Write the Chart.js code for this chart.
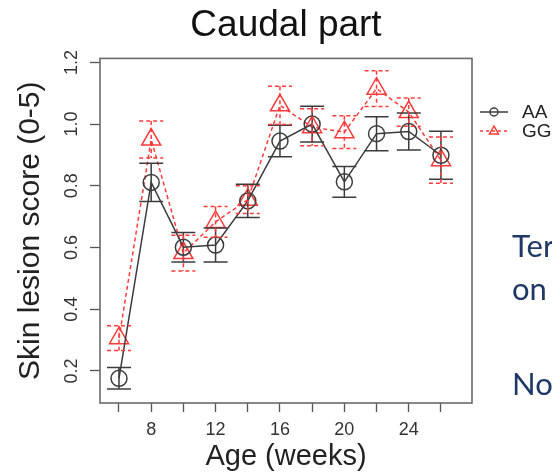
<!DOCTYPE html>
<html>
<head>
<meta charset="utf-8">
<script src="https://cdn.jsdelivr.net/npm/chart.js@4.4.1/dist/chart.umd.min.js"></script>
<style>
  html, body { margin: 0; padding: 0; background: #fff; }
  #wrap { width: 552px; height: 475px; position: relative; }
</style>
</head>
<body>
<div id="wrap"><canvas id="c" width="552" height="475"></canvas></div>
<script>
// ---- data ----
const weeks = [6, 8, 10, 12, 14, 16, 18, 20, 22, 24, 26];
const aaMean = [0.176, 0.811, 0.601, 0.608, 0.751, 0.945, 1.000, 0.813, 0.969, 0.976, 0.899];
const aaErr  = [0.035, 0.062, 0.048, 0.055, 0.054, 0.051, 0.058, 0.050, 0.055, 0.060, 0.078];
const ggMean = [0.306, 0.950, 0.582, 0.683, 0.755, 1.061, 0.990, 0.974, 1.115, 1.039, 0.883];
const ggErr  = [0.040, 0.060, 0.058, 0.050, 0.045, 0.062, 0.060, 0.053, 0.058, 0.046, 0.075];
const seriesLabels = ['AA', 'GG'];
const xTicks = [6, 8, 10, 12, 14, 16, 18, 20, 22, 24, 26];
const xTickLabels = ['', '8', '', '12', '', '16', '', '20', '', '24', ''];
const yTicks = [0.2, 0.4, 0.6, 0.8, 1.0, 1.2];
const yTickLabels = ['0.2', '0.4', '0.6', '0.8', '1.0', '1.2'];
const titleText = 'Caudal part';
const xTitle = 'Age (weeks)';
const yTitle = 'Skin lesion score (0-5)';
const slideText = ['Ter', 'on', 'No'];

const AA_COLOR = '#3c3c3c';
const GG_COLOR = '#ff3a3a';
const FONT = "'Liberation Sans', Arial, sans-serif";

const errorBars = {
  id: 'errorBars',
  afterDatasetsDraw(chart) {
    const {ctx, scales: {x, y}} = chart;
    const sets = [
      {mean: aaMean, err: aaErr, color: AA_COLOR, dash: []},
      {mean: ggMean, err: ggErr, color: GG_COLOR, dash: [4, 3]}
    ];
    const cap = 12;
    sets.forEach(s => {
      ctx.save();
      ctx.strokeStyle = s.color;
      ctx.lineWidth = 1.5;
      ctx.setLineDash(s.dash);
      weeks.forEach((w, i) => {
        const px = x.getPixelForValue(w);
        const top = y.getPixelForValue(s.mean[i] + s.err[i]);
        const bot = y.getPixelForValue(s.mean[i] - s.err[i]);
        ctx.beginPath();
        ctx.moveTo(px, top); ctx.lineTo(px, bot);
        ctx.moveTo(px - cap, top); ctx.lineTo(px + cap, top);
        ctx.moveTo(px - cap, bot); ctx.lineTo(px + cap, bot);
        ctx.stroke();
      });
      ctx.restore();
    });
  }
};

const frame = {
  id: 'frame',
  afterDraw(chart) {
    const {ctx, chartArea: a} = chart;
    ctx.save();
    ctx.strokeStyle = '#6a6a6a';
    ctx.lineWidth = 1.6;
    ctx.strokeRect(a.left, a.top, a.right - a.left, a.bottom - a.top);
    ctx.restore();
  }
};

const customLegend = {
  id: 'customLegend',
  afterDraw(chart) {
    const {ctx} = chart;
    const rows = [
      {label: seriesLabels[0], color: AA_COLOR, dash: [], y: 112, style: 'circle'},
      {label: seriesLabels[1], color: GG_COLOR, dash: [3, 3], y: 131, style: 'triangle'}
    ];
    rows.forEach(r => {
      ctx.save();
      ctx.strokeStyle = r.color;
      ctx.lineWidth = 1.5;
      ctx.setLineDash(r.dash);
      ctx.beginPath();
      ctx.moveTo(480, r.y); ctx.lineTo(508, r.y);
      ctx.stroke();
      ctx.setLineDash([]);
      ctx.beginPath();
      if (r.style === 'circle') {
        ctx.arc(494, r.y, 4, 0, Math.PI * 2);
      } else {
        ctx.moveTo(494, r.y - 5); ctx.lineTo(498.5, r.y + 3); ctx.lineTo(489.5, r.y + 3); ctx.closePath();
      }
      ctx.stroke();
      ctx.fillStyle = '#222';
      ctx.font = '19px ' + FONT;
      ctx.textBaseline = 'middle';
      ctx.textAlign = 'left';
      ctx.fillText(r.label, 522, r.y + 1);
      ctx.restore();
    });
  }
};

const slide = {
  id: 'slide',
  afterDraw(chart) {
    const {ctx} = chart;
    ctx.save();
    ctx.fillStyle = '#1f3864';
    ctx.font = "31px Lato, 'Open Sans', sans-serif";
    ctx.textBaseline = 'alphabetic';
    ctx.textAlign = 'left';
    const ys = [257, 300, 395];
    slideText.forEach((t, i) => ctx.fillText(t, 512, ys[i]));
    ctx.restore();
  }
};

new Chart(document.getElementById('c'), {
  type: 'line',
  data: {
    datasets: [
      {
        label: seriesLabels[0],
        data: weeks.map((w, i) => ({x: w, y: aaMean[i]})),
        borderColor: AA_COLOR,
        borderWidth: 1.5,
        pointStyle: 'circle',
        pointRadius: 8,
        pointBorderWidth: 1.5,
        pointBorderColor: AA_COLOR,
        pointBackgroundColor: 'rgba(0,0,0,0)',
        tension: 0
      },
      {
        label: seriesLabels[1],
        data: weeks.map((w, i) => ({x: w, y: ggMean[i]})),
        borderColor: GG_COLOR,
        borderWidth: 1.5,
        borderDash: [4, 3],
        pointStyle: 'triangle',
        pointRadius: 11,
        pointBorderWidth: 1.5,
        pointBorderColor: GG_COLOR,
        pointBackgroundColor: 'rgba(0,0,0,0)',
        tension: 0
      }
    ]
  },
  options: {
    responsive: false,
    animation: false,
    events: [],
    layout: { padding: { top: 0, right: 80, left: 0, bottom: 0 } },
    plugins: {
      legend: { display: false },
      tooltip: { enabled: false },
      title: {
        display: true,
        text: titleText,
        fullSize: false,
        color: '#111',
        font: { family: FONT, size: 37, weight: 'normal' },
        padding: { top: 4, bottom: 10 }
      }
    },
    scales: {
      x: {
        type: 'linear',
        min: 4.82,
        max: 27.93,
        afterBuildTicks: s => { s.ticks = xTicks.map(v => ({value: v})); },
        afterFit: s => { s.height = 72; },
        ticks: {
          autoSkip: false,
          maxRotation: 0,
          color: '#333',
          padding: 7,
          font: { family: FONT, size: 18 },
          callback: (v, i) => xTickLabels[i]
        },
        grid: { drawOnChartArea: false, drawTicks: true, tickLength: 9, tickColor: '#555', tickWidth: 1.3 },
        border: { display: false },
        title: {
          display: true,
          text: xTitle,
          color: '#222',
          font: { family: FONT, size: 29 },
          padding: { top: 0, bottom: 1 }
        }
      },
      y: {
        type: 'linear',
        min: 0.096,
        max: 1.213,
        afterBuildTicks: s => { s.ticks = yTicks.map(v => ({value: v})); },
        afterFit: s => { s.width = 100; },
        ticks: {
          autoSkip: false,
          minRotation: 90,
          maxRotation: 90,
          crossAlign: 'center',
          color: '#333',
          padding: 5,
          font: { family: FONT, size: 18 },
          callback: (v, i) => yTickLabels[i]
        },
        grid: { drawOnChartArea: false, drawTicks: true, tickLength: 10, tickColor: '#555', tickWidth: 1.3 },
        border: { display: false },
        title: {
          display: true,
          text: yTitle,
          color: '#222',
          font: { family: FONT, size: 30 },
          padding: { top: 13, bottom: 0 }
        }
      }
    }
  },
  plugins: [errorBars, frame, customLegend, slide]
});
</script>
</body>
</html>
